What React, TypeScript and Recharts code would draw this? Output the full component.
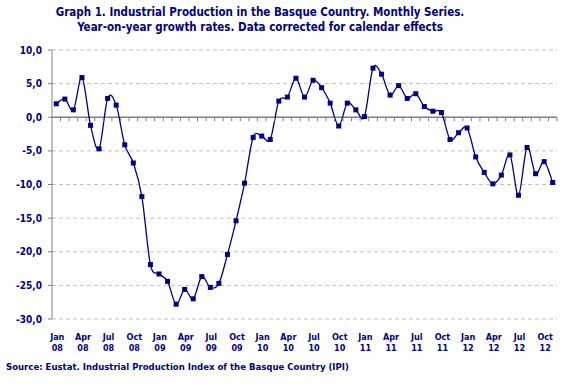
import React from 'react';
import { LineChart, Line, XAxis, YAxis, CartesianGrid, ReferenceLine } from 'recharts';

const monthNames = ['Jan', 'Feb', 'Mar', 'Apr', 'May', 'Jun', 'Jul', 'Aug', 'Sep', 'Oct', 'Nov', 'Dec'];
const years = ['08', '09', '10', '11', '12'];
const monthCount = 59;

const growth = [
  2.0, 2.7, 1.1, 5.9, -1.2, -4.7, 2.8, 1.8, -4.1, -6.8,
  -11.8, -21.9, -23.3, -24.4, -27.8, -25.6, -27.0, -23.7, -25.3, -24.7,
  -20.4, -15.4, -9.8, -3.0, -2.8, -3.3, 2.4, 3.0, 5.8, 3.0,
  5.5, 4.4, 2.1, -1.3, 2.1, 1.1, 0.1, 7.3, 6.4, 3.3,
  4.7, 2.8, 3.5, 1.6, 0.9, 0.7, -3.3, -2.3, -1.6, -5.9,
  -8.2, -9.9, -8.6, -5.6, -11.6, -4.5, -8.4, -6.6, -9.7,
];

const yTicks = [-30, -25, -20, -15, -10, -5, 0, 5, 10];

const categories: { month: string; year: string }[] = [];
for (let i = 0; i < monthCount; i++) {
  categories.push({ month: monthNames[i % 12], year: years[Math.floor(i / 12)] });
}
const data = categories.map((c, i) => ({ label: `${c.month} ${c.year}`, value: growth[i] }));

const NAVY = '#000080';
const W = 568;
const H = 385;
const M_TOP = 50;
const M_RIGHT = 11;
const M_BOTTOM = 36;
const X_AXIS_H = 30;
const Y_AXIS_W = 52;
const PLOT_H = H - M_TOP - M_BOTTOM - X_AXIS_H;
const PLOT_W = W - M_RIGHT - Y_AXIS_W;
const ZERO_Y = M_TOP + PLOT_H * (10 / 40);
const BAND = PLOT_W / monthCount;
const FONT = '"DejaVu Sans Condensed", "DejaVu Sans", Verdana, sans-serif';

// Excel-like smoothed line (Catmull-Rom through the points)
const smoothCurve = (context: any) => {
  let pts: number[][] = [];
  return {
    areaStart() {},
    areaEnd() {},
    lineStart() {
      pts = [];
    },
    point(x: number, y: number) {
      pts.push([+x, +y]);
    },
    lineEnd() {
      const n = pts.length;
      if (!n) return;
      context.moveTo(pts[0][0], pts[0][1]);
      const t = 1 / 6;
      for (let i = 0; i < n - 1; i++) {
        const p0 = pts[i - 1] || pts[i];
        const p1 = pts[i];
        const p2 = pts[i + 1];
        const p3 = pts[i + 2] || pts[i + 1];
        context.bezierCurveTo(
          p1[0] + (p2[0] - p0[0]) * t,
          p1[1] + (p2[1] - p0[1]) * t,
          p2[0] - (p3[0] - p1[0]) * t,
          p2[1] - (p3[1] - p1[1]) * t,
          p2[0],
          p2[1]
        );
      }
    },
  };
};

const XTick = (props: any) => {
  const { x, y, index } = props;
  const c = categories[index];
  const showLabel = index % 3 === 0;
  return (
    <g>
      <line x1={x + BAND / 2} x2={x + BAND / 2} y1={ZERO_Y} y2={ZERO_Y + 4} stroke="#808080" strokeWidth={1} />
      {showLabel && c ? (
        <text x={x + 1} y={y + 13} textAnchor="middle" fill={NAVY} fontFamily={FONT} fontWeight="bold" fontSize={9}>
          <tspan x={x + 1} dy={0}>{c.month}</tspan>
          <tspan x={x + 1} dy={11}>{c.year}</tspan>
        </text>
      ) : null}
    </g>
  );
};

const Dot = (props: any) => {
  const { cx, cy, index } = props;
  if (cx == null || cy == null) return <g key={`d${index}`} />;
  return <rect key={`d${index}`} x={cx - 2.5} y={cy - 2.5} width={5} height={5} fill={NAVY} />;
};

export default function App() {
  return (
    <div style={{ position: 'absolute', left: 0, top: 0, width: W, height: H, background: '#fff' }}>
      <div
        style={{
          position: 'absolute',
          left: 0,
          top: 5,
          width: 520,
          textAlign: 'center',
          fontFamily: FONT,
          fontWeight: 'bold',
          fontSize: 11.5,
          lineHeight: '15px',
          color: NAVY,
        }}
      >
        <div>Graph 1. Industrial Production in the Basque Country. Monthly Series.</div>
        <div>Year-on-year growth rates. Data corrected for calendar effects</div>
      </div>
      <LineChart
        width={W}
        height={H}
        data={data}
        margin={{ top: M_TOP, right: M_RIGHT, bottom: M_BOTTOM, left: 0 }}
      >
        <CartesianGrid vertical={false} stroke="#c0c0c0" strokeDasharray="4 3" />
        <XAxis
          dataKey="label"
          interval={0}
          height={X_AXIS_H}
          axisLine={false}
          tickLine={false}
          padding={{ left: BAND / 2, right: BAND / 2 }}
          tick={<XTick />}
        />
        <YAxis
          width={Y_AXIS_W}
          domain={[-30, 10]}
          ticks={yTicks}
          interval={0}
          allowDataOverflow
          axisLine={{ stroke: '#808080', strokeWidth: 1 }}
          tickLine={{ stroke: '#808080' }}
          tickSize={4}
          tickMargin={6}
          tickFormatter={(v: number) => v.toFixed(1).replace('.', ',')}
          tick={{ fill: NAVY, fontFamily: FONT, fontWeight: 'bold', fontSize: 10 }}
        />
        <ReferenceLine y={0} stroke="#808080" strokeWidth={1.5} />
        <Line
          dataKey="value"
          type={smoothCurve as any}
          stroke={NAVY}
          strokeWidth={1.3}
          dot={<Dot />}
          activeDot={false}
          isAnimationActive={false}
        />
      </LineChart>
      <div
        style={{
          position: 'absolute',
          left: 6,
          top: 361,
          fontFamily: FONT,
          fontWeight: 'bold',
          fontSize: 9.5,
          color: NAVY,
          whiteSpace: 'nowrap',
        }}
      >
        Source: Eustat. Industrial Production Index of the Basque Country (IPI)
      </div>
    </div>
  );
}
